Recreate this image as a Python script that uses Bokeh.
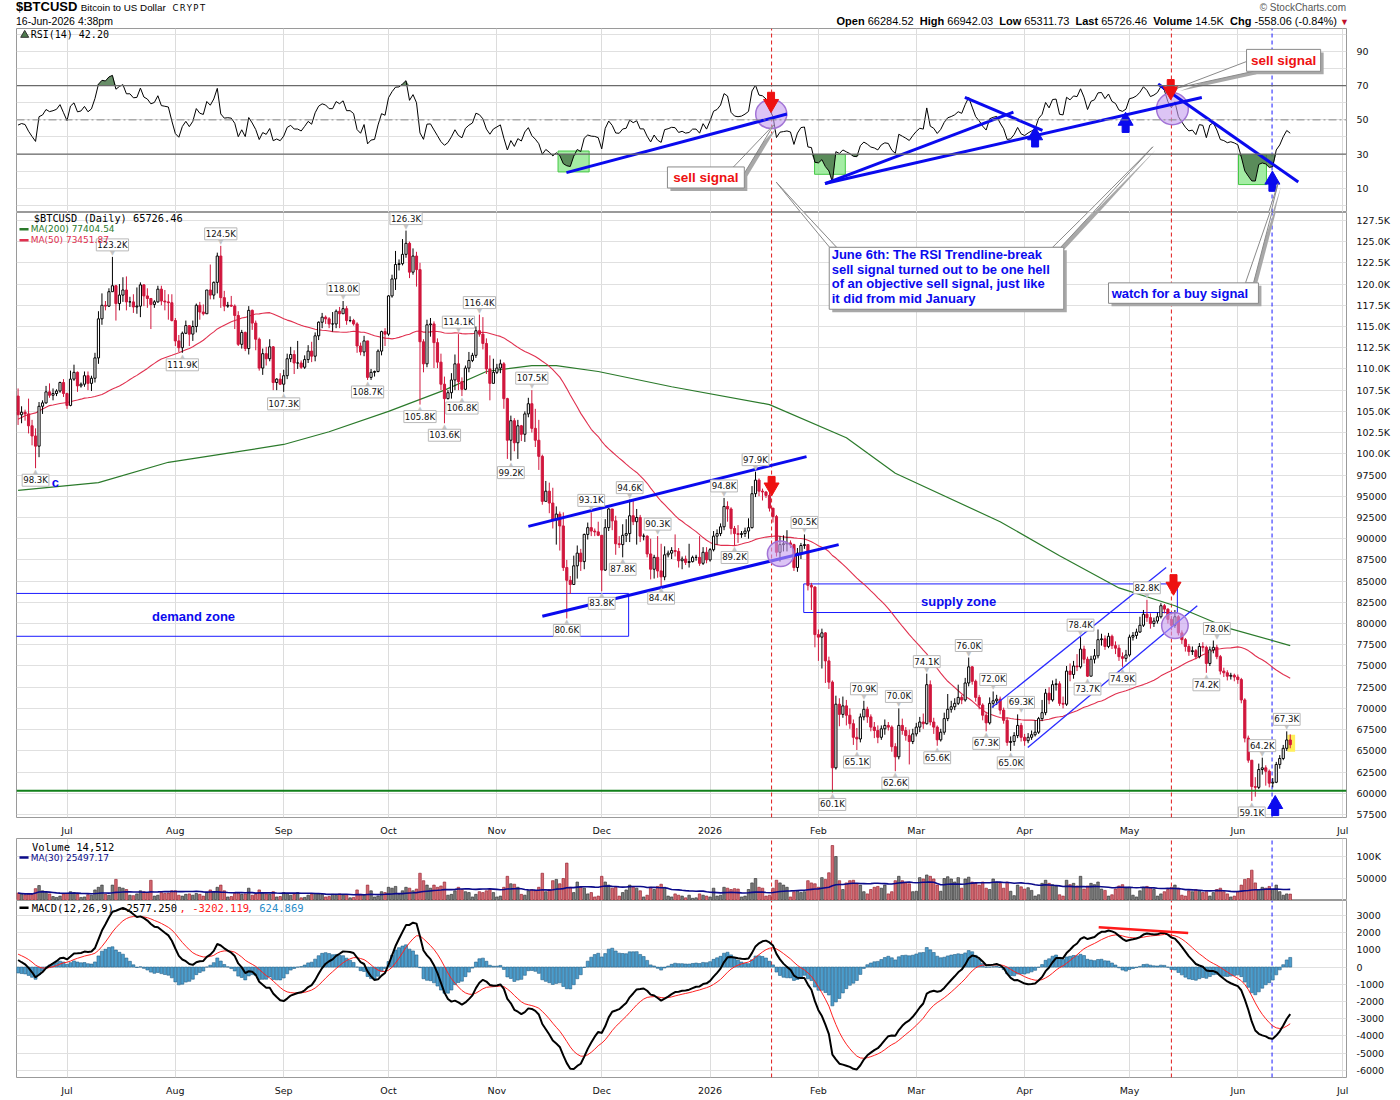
import numpy as np
import pandas as pd
from bokeh.plotting import figure
from bokeh.layouts import column
from bokeh.models import Range1d, FixedTicker, Div, Span, CustomJSTickFormatter, ColumnDataSource
from bokeh.core.properties import value
from bokeh.embed import file_html
from bokeh.resources import INLINE

# ------------------------------------------------------------------ data (prices in K USD)
# daily closes before the first plotted day (warm-up for MA(50), RSI(14), MACD)
warmup_close = [94.3, 94.2, 96.5, 96.9, 95.9, 94.3, 94.7, 96.8, 97.0, 103.2, 102.9, 104.6, 104.1, 102.8,
                104.1, 103.5, 103.7, 103.5, 103.1, 106.5, 105.6, 106.8, 109.7, 111.7, 107.3, 107.8, 109.0,
                109.4, 108.9, 107.8, 105.6, 103.9, 104.6, 105.7, 105.8, 105.4, 104.7, 101.6, 104.4, 105.6,
                105.7, 110.3, 110.3, 108.6, 105.7, 106.0, 105.4, 105.6, 106.8]

close_jun25 = [104.6, 104.9, 104.7, 103.3, 102.1, 100.9, 105.6, 106.0, 107.3, 106.9, 107.1, 107.4, 108.4, 107.1]
high_jun25 = [107.7, 105.6, 105.2, 106.5, 104.0, 103.0, 106.1, 106.3, 108.0, 108.3, 107.7, 107.6, 108.5, 108.8]
low_jun25 = [103.4, 103.6, 103.9, 102.4, 101.0, 98.3, 99.6, 104.7, 105.9, 106.6, 106.3, 106.8, 107.2, 106.7]

close_jul25 = [105.7, 108.8, 109.6, 108.0, 108.2, 109.2, 108.3, 108.9, 111.3, 115.9, 117.5, 117.4, 119.1, 119.8, 117.7,
               118.7, 119.3, 117.9, 117.9, 117.3, 117.4, 119.9, 118.6, 118.3, 117.6, 117.9, 119.4, 118.0, 117.9, 117.8, 115.7]
high_jul25 = [107.2, 109.8, 110.5, 109.7, 108.4, 109.7, 109.7, 109.2, 111.9, 116.8, 118.9, 118.0, 119.5, 123.2, 119.9,
              120.0, 120.8, 120.9, 118.5, 118.8, 119.6, 120.2, 120.0, 119.5, 118.3, 118.1, 119.8, 119.8, 119.3, 118.8, 118.8]
low_jul25 = [105.3, 105.6, 108.6, 107.3, 107.8, 107.9, 107.5, 107.4, 108.4, 110.6, 115.2, 116.9, 117.3, 119.1, 115.7,
             116.9, 117.9, 116.9, 117.3, 116.6, 116.5, 116.1, 117.4, 117.2, 114.7, 117.2, 117.8, 117.5, 116.9, 115.8, 115.6]

close_aug25 = [113.3, 112.5, 114.2, 115.1, 114.1, 115.0, 117.5, 116.7, 116.5, 119.3, 118.7, 120.2, 123.3, 118.4, 117.4,
               117.5, 117.4, 116.3, 112.9, 114.3, 112.4, 116.9, 115.4, 113.5, 110.1, 111.8, 111.2, 112.6, 108.4, 108.8, 108.2]
high_aug25 = [116.0, 114.0, 114.4, 115.7, 115.1, 115.7, 117.7, 117.9, 117.6, 119.3, 122.3, 120.3, 123.7, 124.5, 119.2,
              117.9, 118.6, 117.6, 116.8, 114.6, 114.4, 117.4, 117.0, 115.7, 113.7, 112.4, 112.6, 113.5, 112.7, 108.9, 109.5]
low_aug25 = [112.7, 112.0, 111.9, 114.1, 112.7, 113.3, 114.3, 115.8, 116.3, 116.5, 118.2, 118.2, 118.9, 117.2, 116.8,
             117.2, 117.3, 114.7, 112.7, 112.4, 112.1, 111.7, 114.6, 112.2, 109.8, 109.3, 110.4, 110.9, 107.5, 107.5, 108.1]

close_sep25 = [109.2, 111.2, 111.7, 110.7, 110.7, 110.2, 111.1, 112.1, 111.5, 113.9, 115.5, 116.1, 115.9, 115.3, 115.3,
               116.8, 116.5, 117.1, 115.7, 115.7, 115.3, 112.7, 112.0, 113.3, 109.0, 109.6, 109.7, 112.1, 114.4, 114.1]
high_sep25 = [109.9, 111.8, 112.6, 112.2, 113.3, 111.0, 111.6, 112.8, 113.2, 114.3, 115.6, 116.6, 116.3, 116.1, 116.7,
              117.0, 117.3, 118.0, 117.4, 116.2, 115.9, 115.5, 113.1, 113.9, 113.3, 110.0, 109.8, 112.3, 114.5, 114.8]
low_sep25 = [107.3, 108.8, 110.8, 109.4, 110.0, 110.0, 110.0, 110.7, 110.8, 110.9, 113.4, 114.8, 115.3, 114.8, 114.4,
             114.8, 114.8, 116.6, 115.2, 115.5, 115.1, 111.9, 111.6, 111.5, 108.7, 108.7, 109.1, 109.6, 111.6, 112.7]

close_oct25 = [118.6, 120.6, 122.3, 122.4, 123.5, 124.8, 121.4, 123.3, 121.7, 113.2, 110.6, 115.2, 115.3, 113.1, 110.8,
               108.2, 106.5, 107.2, 108.7, 110.6, 108.5, 107.6, 110.1, 111.0, 111.6, 114.5, 114.1, 113.0, 110.0, 108.3, 109.6]
high_oct25 = [118.7, 121.1, 123.9, 122.9, 125.3, 126.3, 125.0, 124.2, 123.8, 122.5, 113.5, 115.8, 116.0, 115.6, 113.6,
              111.8, 109.1, 107.5, 109.5, 111.7, 114.1, 109.0, 110.4, 112.0, 111.9, 115.0, 116.4, 116.1, 113.6, 111.6, 111.2]
low_oct25 = [113.9, 118.4, 119.3, 121.6, 122.2, 123.1, 120.7, 121.1, 119.7, 105.8, 109.6, 110.2, 113.8, 110.1, 110.1,
             107.5, 103.6, 106.4, 106.5, 107.5, 107.5, 106.8, 107.5, 109.6, 110.8, 111.3, 113.8, 112.3, 109.4, 106.3, 108.7]

close_nov25 = [110.1, 110.6, 106.5, 101.6, 103.9, 101.3, 103.3, 102.3, 104.7, 105.9, 103.0, 101.6, 99.7, 94.4, 95.6,
               94.2, 92.2, 92.9, 91.5, 86.6, 85.1, 84.6, 86.8, 88.3, 87.3, 90.5, 91.3, 90.9, 90.8, 90.4]
high_nov25 = [110.6, 111.1, 110.8, 106.6, 104.5, 104.2, 104.0, 103.4, 105.0, 106.6, 107.5, 105.3, 104.0, 99.9, 96.8,
              96.6, 96.0, 93.8, 93.2, 93.1, 87.5, 85.6, 88.0, 89.2, 88.8, 90.6, 91.9, 93.1, 91.2, 92.0]
low_nov25 = [109.4, 109.5, 105.3, 99.4, 99.2, 100.3, 99.4, 101.5, 101.4, 104.3, 102.5, 100.8, 98.1, 94.0, 94.6,
             93.0, 91.2, 89.3, 88.6, 86.2, 80.6, 83.5, 84.7, 85.3, 86.2, 86.4, 89.9, 90.3, 90.3, 90.3]

close_dec25 = [86.3, 91.3, 93.5, 92.1, 89.4, 89.3, 90.4, 90.6, 92.7, 92.0, 92.5, 90.3, 90.3, 88.2, 86.4, 87.8,
               86.2, 85.5, 88.1, 88.3, 88.6, 88.5, 87.4, 87.6, 87.2, 87.3, 87.8, 87.8, 87.1, 88.4, 87.5]
high_dec25 = [90.4, 92.3, 93.6, 93.4, 92.7, 90.3, 91.7, 92.3, 94.6, 94.5, 93.5, 92.8, 90.6, 90.4, 90.0, 88.1,
              90.3, 89.4, 89.1, 88.6, 89.0, 90.5, 88.9, 87.9, 88.0, 89.4, 88.0, 88.1, 90.3, 89.0, 89.0]
low_dec25 = [83.8, 86.2, 90.9, 91.0, 88.1, 88.9, 87.8, 89.6, 89.6, 91.6, 89.3, 89.6, 89.8, 87.8, 85.2, 85.3,
             85.4, 84.4, 85.1, 87.8, 87.6, 87.9, 86.6, 86.4, 86.9, 86.6, 87.2, 87.4, 86.8, 86.9, 87.1]

close_jan26 = [88.7, 90.3, 90.6, 91.4, 93.8, 93.5, 91.2, 90.6, 90.5, 90.6, 90.9, 91.3, 95.3, 96.9, 95.6, 95.5,
               95.1, 93.6, 92.6, 88.4, 89.3, 89.4, 89.5, 89.3, 86.6, 88.3, 89.2, 89.3, 84.5, 84.3, 78.7]
high_jan26 = [88.9, 90.9, 91.1, 91.8, 94.8, 94.4, 93.7, 91.5, 91.6, 90.9, 91.3, 92.4, 96.2, 97.9, 97.1, 95.9,
              95.6, 95.4, 93.6, 92.8, 90.3, 90.4, 91.0, 89.8, 89.4, 88.9, 89.5, 90.5, 89.3, 84.8, 84.4]
low_jan26 = [87.3, 88.5, 89.3, 90.3, 91.0, 92.0, 90.5, 89.2, 89.5, 90.1, 90.2, 90.0, 91.2, 94.9, 95.0, 94.5,
             94.8, 93.2, 91.9, 87.9, 87.3, 88.5, 88.5, 88.9, 86.2, 86.1, 87.6, 88.8, 83.9, 81.6, 77.2]

close_feb26 = [78.4, 78.9, 75.6, 73.1, 63.0, 70.5, 69.3, 70.3, 69.2, 68.2, 66.6, 66.4, 69.0, 69.9, 69.0, 67.8,
               67.4, 66.6, 67.6, 68.0, 67.8, 65.5, 64.3, 68.0, 67.4, 66.8, 66.1, 67.0]
high_feb26 = [79.3, 79.4, 79.0, 76.1, 73.3, 71.5, 71.2, 71.4, 71.0, 70.0, 68.7, 67.7, 69.4, 70.9, 70.2, 69.3,
              68.4, 68.0, 68.0, 68.7, 68.4, 68.0, 65.9, 70.0, 68.8, 67.8, 67.5, 67.6]
low_feb26 = [75.6, 74.7, 73.0, 72.3, 60.1, 62.8, 67.9, 68.9, 68.0, 67.6, 65.7, 65.1, 66.0, 68.6, 68.3, 67.3,
             66.5, 65.9, 66.3, 66.9, 67.4, 64.9, 62.6, 64.0, 66.9, 66.2, 63.4, 65.8]

close_mar26 = [67.8, 68.4, 68.2, 72.8, 68.4, 67.8, 66.3, 67.2, 68.8, 69.9, 70.2, 70.6, 71.3, 71.0, 73.0, 74.9,
               73.2, 71.3, 70.4, 69.2, 68.3, 70.6, 70.9, 71.1, 69.8, 68.6, 66.0, 66.1, 66.8, 68.0, 66.6]
high_mar26 = [68.3, 69.0, 69.4, 74.1, 73.3, 68.9, 68.0, 67.6, 69.5, 71.7, 70.9, 71.2, 72.8, 71.6, 73.6, 76.0,
              75.0, 73.4, 71.6, 70.6, 69.6, 71.3, 72.0, 71.6, 71.4, 70.1, 68.9, 66.7, 67.2, 69.3, 68.3]
low_mar26 = [66.7, 67.2, 67.6, 68.1, 68.0, 67.0, 65.6, 66.1, 66.9, 68.5, 69.5, 69.8, 70.4, 70.5, 70.8, 72.6,
             72.8, 70.8, 69.9, 68.6, 67.3, 68.1, 70.1, 70.4, 69.3, 68.2, 65.6, 65.0, 65.6, 66.5, 66.1]

close_apr26 = [66.2, 66.6, 66.9, 67.2, 68.8, 69.5, 71.8, 71.0, 72.8, 72.9, 70.6, 70.5, 74.4, 74.0, 75.0, 74.9,
               77.0, 75.8, 73.8, 75.8, 76.2, 78.1, 78.2, 77.3, 78.5, 77.4, 77.1, 76.1, 75.9, 76.3]
high_apr26 = [67.0, 67.1, 67.4, 68.6, 69.0, 71.0, 72.3, 72.5, 73.3, 73.5, 73.2, 71.4, 75.0, 75.3, 75.6, 76.4,
              78.4, 77.4, 76.1, 76.2, 77.0, 79.3, 78.8, 78.6, 78.9, 78.7, 77.9, 77.5, 76.6, 76.9]
low_apr26 = [65.6, 65.9, 66.3, 66.7, 67.0, 68.5, 69.2, 70.5, 70.8, 72.1, 70.3, 70.0, 70.3, 73.2, 73.5, 74.4,
             74.7, 75.3, 73.7, 73.8, 75.3, 75.9, 77.4, 76.9, 77.1, 77.0, 76.4, 75.6, 74.9, 75.5]

close_may26 = [78.4, 78.6, 79.0, 79.8, 81.1, 80.7, 80.0, 80.3, 80.8, 82.1, 81.7, 80.5, 79.8, 80.8, 78.9, 78.1,
               77.3, 76.7, 76.8, 76.1, 77.3, 77.2, 75.3, 76.9, 77.2, 76.1, 74.4, 74.2, 73.8, 73.9, 73.7]
high_may26 = [78.7, 79.0, 79.4, 80.8, 81.6, 82.8, 81.2, 80.7, 81.3, 82.4, 82.3, 81.8, 80.9, 81.6, 81.0, 79.2,
              78.3, 77.6, 77.3, 77.0, 77.7, 77.8, 77.4, 77.3, 78.0, 77.5, 76.3, 74.8, 74.5, 74.2, 74.1]
low_may26 = [76.1, 78.0, 78.2, 78.9, 79.6, 80.2, 79.4, 79.6, 80.0, 80.6, 81.2, 80.0, 79.2, 79.5, 78.6, 77.6,
             76.7, 76.2, 76.3, 75.8, 75.9, 76.7, 74.2, 75.0, 76.5, 75.8, 74.0, 73.7, 73.3, 73.4, 73.2]

close_jun26 = [73.4, 71.0, 66.5, 63.9, 60.8, 60.7, 62.8, 63.0, 62.6, 61.2, 61.3, 63.4, 64.1, 65.3, 66.28452, 65.72646]
high_jun26 = [74.0, 73.6, 71.2, 66.8, 63.9, 61.9, 63.5, 64.2, 63.3, 62.8, 61.8, 63.7, 64.5, 65.7, 67.3, 66.94203]
low_jun26 = [72.9, 70.6, 66.0, 63.6, 59.1, 59.6, 60.5, 62.2, 60.9, 60.7, 60.7, 61.2, 62.9, 63.9, 65.0, 65.31173]

# daily volume (thousands)
vol_jun25 = [17, 15, 13, 16, 14, 27, 34, 22, 18, 15, 9, 7, 10, 15]
vol_jul25 = [16, 20, 18, 14, 7, 8, 13, 12, 24, 30, 35, 14, 12, 35, 48, 30, 28, 25, 12, 11, 15, 22, 20, 18, 46, 10,
             12, 18, 16, 17, 22]
vol_aug25 = [22, 12, 10, 14, 15, 12, 16, 14, 10, 18, 24, 20, 30, 35, 22, 8, 9, 16, 18, 14, 15, 28, 12, 14, 24, 18,
             15, 14, 20, 8, 9]
vol_sep25 = [18, 16, 12, 14, 18, 6, 7, 12, 14, 16, 15, 14, 8, 9, 14, 12, 15, 13, 12, 6, 7, 24, 14, 13, 35, 22, 8,
             10, 20, 18]
vol_oct25 = [30, 28, 32, 14, 22, 30, 28, 22, 26, 62, 45, 35, 28, 35, 30, 33, 42, 12, 14, 22, 30, 25, 20, 18, 8, 14,
             20, 18, 22, 25, 18]
vol_nov25 = [8, 10, 30, 55, 38, 37, 30, 14, 12, 22, 25, 22, 30, 62, 20, 25, 45, 48, 38, 50, 85, 30, 18, 42, 30, 28,
             15, 18, 8, 10]
vol_dec25 = [55, 42, 35, 28, 30, 10, 18, 24, 35, 30, 28, 22, 8, 12, 30, 25, 32, 37, 30, 10, 8, 15, 12, 10, 6, 12, 5,
             6, 15, 12, 10]
vol_jan26 = [8, 28, 10, 12, 30, 28, 25, 27, 26, 8, 10, 25, 40, 50, 30, 28, 10, 12, 28, 46, 40, 35, 30, 8, 20, 22,
             18, 20, 45, 40, 38]
vol_feb26 = [30, 52, 48, 63, 125, 100, 45, 25, 40, 45, 46, 38, 35, 20, 15, 25, 30, 32, 28, 35, 15, 20, 45, 55, 45,
             40, 38, 20]
vol_mar26 = [21, 52, 49, 58, 55, 49, 35, 21, 50, 54, 49, 42, 52, 28, 49, 53, 42, 39, 35, 42, 28, 25, 49, 42, 39, 28,
             42, 21, 11, 35, 31]
vol_apr26 = [26, 29, 23, 10, 13, 39, 46, 39, 36, 33, 13, 10, 46, 36, 39, 33, 55, 26, 33, 39, 36, 42, 26, 23, 10, 13,
             26, 33, 36, 29]
vol_may26 = [30, 12, 8, 22, 30, 32, 28, 25, 10, 15, 20, 25, 30, 35, 28, 12, 10, 22, 20, 25, 22, 18, 20, 10, 18, 25,
             28, 20, 15, 8, 10]
vol_jun26 = [20, 35, 48, 50, 69, 40, 25, 30, 28, 32, 25, 35, 20, 12, 15, 14.512]

# MA(200) (day index, K USD)
ma200_day = [0, 23, 43, 62, 76, 89, 106, 122, 134, 147, 154, 166, 187, 215, 237, 251, 281, 298, 315, 331, 346, 364]
ma200_val = [95.7, 96.6, 99.0, 100.2, 101.1, 102.6, 105.0, 107.5, 109.7, 110.4, 110.4, 109.7, 107.9, 105.8, 101.9,
             97.7, 92.0, 88.0, 84.2, 82.1, 79.5, 77.4]

# swing high / low price tags (day index, value K, 1 = above the bar)
tag_day = [5, 27, 47, 58, 76, 93, 100, 111, 115, 122, 126, 127, 132, 141, 147, 157, 164, 167, 175, 173, 183, 184,
           202, 205, 211, 225, 233, 242, 240, 252, 251, 260, 263, 272, 277, 279, 287, 284, 304, 306, 316, 323, 343,
           340, 353, 356, 363]
tag_val = [98.3, 123.2, 111.9, 124.5, 107.3, 118.0, 108.7, 126.3, 105.8, 103.6, 114.1, 106.8, 116.4, 99.2, 107.5,
           80.6, 93.1, 83.8, 94.6, 87.8, 90.3, 84.4, 94.8, 89.2, 97.9, 90.5, 60.1, 70.9, 65.1, 70.0, 62.6, 74.1, 65.6,
           76.0, 67.3, 72.0, 69.3, 65.0, 78.4, 73.7, 74.9, 82.8, 78.0, 74.2, 59.1, 64.2, 67.3]
tag_above = [0, 1, 0, 1, 0, 1, 0, 1, 0, 0, 1, 0, 1, 0, 1, 0, 1, 0, 1, 0, 1, 0, 1, 0, 1, 1, 0, 1, 0, 1, 0, 1, 0, 1, 0,
             1, 1, 0, 1, 0, 0, 1, 1, 0, 0, 1, 1]

# ------------------------------------------------------------------ assemble series
closes = (close_jun25 + close_jul25 + close_aug25 + close_sep25 + close_oct25 + close_nov25 + close_dec25 +
          close_jan26 + close_feb26 + close_mar26 + close_apr26 + close_may26 + close_jun26)
highs = (high_jun25 + high_jul25 + high_aug25 + high_sep25 + high_oct25 + high_nov25 + high_dec25 +
         high_jan26 + high_feb26 + high_mar26 + high_apr26 + high_may26 + high_jun26)
lows = (low_jun25 + low_jul25 + low_aug25 + low_sep25 + low_oct25 + low_nov25 + low_dec25 +
        low_jan26 + low_feb26 + low_mar26 + low_apr26 + low_may26 + low_jun26)
volumes = (vol_jun25 + vol_jul25 + vol_aug25 + vol_sep25 + vol_oct25 + vol_nov25 + vol_dec25 +
           vol_jan26 + vol_feb26 + vol_mar26 + vol_apr26 + vol_may26 + vol_jun26)
n = len(closes)
assert len(highs) == n and len(lows) == n and len(volumes) == n, (n, len(highs), len(lows), len(volumes))

c = np.array(closes)
h = np.array(highs)
l = np.array(lows)
o = np.array([warmup_close[-1]] + closes[:-1])   # 24h market: each day opens at the prior close
vol = np.array(volumes) * 1000.0
days = np.arange(n)
up = c >= o

full = pd.Series(np.array(warmup_close + closes) * 1000.0)
k0 = len(warmup_close)
ma50 = (full.rolling(50).mean() / 1000.0).values[k0:]
d = full.diff().fillna(0.0)
gain = d.clip(lower=0).ewm(alpha=1 / 14, adjust=False).mean()
loss = (-d.clip(upper=0)).ewm(alpha=1 / 14, adjust=False).mean()
rsi = (100 - 100 / (1 + gain / loss)).values[k0:]
macd_s = full.ewm(span=12, adjust=False).mean() - full.ewm(span=26, adjust=False).mean()
sig_s = macd_s.ewm(span=9, adjust=False).mean()
macd = macd_s.values[k0:]
sig = sig_s.values[k0:]
hist = macd - sig
vol_ma = pd.Series(vol).rolling(30, min_periods=1).mean().values

axis_dates = pd.date_range("2025-06-17", "2026-07-01", freq="D")
month_ticks = [i for i, dt in enumerate(axis_dates) if dt.day == 1]
month_labels = ["2026" if dt.month == 1 else dt.strftime("%b") for dt in axis_dates if dt.day == 1]

# ------------------------------------------------------------------ styling helpers
FONT = "DejaVu Sans"
MONO = "DejaVu Sans Mono"
BOLD = "Liberation Sans"
RED = "#d0173d"
BLUE = "#0a0aee"
LEFT_B, RIGHT_B, FRAME_W = 16, 46, 1330
W = LEFT_B + FRAME_W + RIGHT_B
X_RANGE = Range1d(-0.45, 380.1)
SIGNAL_LINES = ((215.6, "#e01b1b"), (330.0, "#e01b1b"), (358.8, "#1b1bff"))


def panel(frame_h, y0, y1, xlabels):
    bottom = 14 if xlabels else 0
    f = figure(width=W, height=frame_h + bottom, x_range=X_RANGE, y_range=Range1d(y0, y1),
               output_backend="svg", toolbar_location=None, y_axis_location="right",
               min_border_left=LEFT_B, min_border_right=RIGHT_B, min_border_top=0, min_border_bottom=bottom)
    f.outline_line_color = "#9a9a9a"
    f.background_fill_color = "white"
    f.border_fill_color = "white"
    f.xgrid.ticker = FixedTicker(ticks=month_ticks)
    f.xgrid.grid_line_color = "#dcdcdc"
    f.ygrid.grid_line_color = "#e0e0e0"
    ya = f.yaxis[0]
    ya.axis_line_color = None
    ya.major_tick_line_color = None
    ya.minor_tick_line_color = None
    ya.major_label_text_font = FONT
    ya.major_label_text_font_size = "9.5px"
    ya.major_label_text_color = "#111111"
    ya.major_label_standoff = 4
    xa = f.xaxis[0]
    if xlabels:
        xa.ticker = FixedTicker(ticks=month_ticks)
        xa.major_label_overrides = {t: s for t, s in zip(month_ticks, month_labels)}
        xa.axis_line_color = None
        xa.major_tick_line_color = None
        xa.minor_tick_line_color = None
        xa.major_label_text_font = FONT
        xa.major_label_text_font_size = "9.5px"
        xa.major_label_text_color = "#111111"
        xa.major_label_standoff = 1
    else:
        xa.visible = False
    for loc, col in SIGNAL_LINES:
        f.segment(x0=[loc], y0=[y0], x1=[loc], y1=[y1], line_color=col, line_dash="4 3", line_width=1)
    return f


def txt(f, x, y, s, color="#000000", size="10px", font=FONT, style="normal", align="left", baseline="middle"):
    f.text(x=[x], y=[y], text=[s], text_color=color, text_font=value(font), text_font_size=value(size),
           text_font_style=style, text_align=align, text_baseline=baseline)


def arrow(f, x, y_shaft, y_head, color, down):
    f.rect(x=[x], y=[y_shaft], width=7, height=8, width_units="screen", height_units="screen",
           fill_color=color, line_color=color)
    f.scatter(x=[x], y=[y_head], marker="inverted_triangle" if down else "triangle", size=15,
              fill_color=color, line_color=color)


def callout(f, box, wedges, dx, dy):
    # box = (left, right, top, bottom); wedges = list of (xs, ys); dx, dy = shadow offsets in data units
    for xs, ys in wedges:
        f.patch([x + dx for x in xs], [y + dy for y in ys], fill_color="#a8a8a8", line_color=None)
    if box:
        f.quad(left=[box[0] + dx], right=[box[1] + dx], top=[box[2] + dy], bottom=[box[3] + dy],
               fill_color="#a8a8a8", line_color=None)
    for xs, ys in wedges:
        f.patch(xs, ys, fill_color="white", line_color="#8a8a8a", line_width=1)
    if box:
        f.quad(left=[box[0]], right=[box[1]], top=[box[2]], bottom=[box[3]],
               fill_color="white", line_color="#8a8a8a", line_width=1)


# ------------------------------------------------------------------ header
header_html = (
    '<div style="position:relative;width:%dpx;height:28px;font-family:\'Liberation Sans\',Arial,sans-serif;color:#000;">'
    '<div style="position:absolute;left:16px;top:0px;line-height:14px;white-space:nowrap;">'
    '<span style="font-size:13px;font-weight:bold;">$BTCUSD</span>&nbsp;'
    '<span style="font-size:9.8px;">Bitcoin to US Dollar</span>&nbsp;&nbsp;'
    '<span style="font-size:8.5px;letter-spacing:1.5px;font-family:\'DejaVu Sans\';">CRYPT</span></div>'
    '<div style="position:absolute;left:16px;top:15px;line-height:12px;font-size:10.5px;">16-Jun-2026 4:38pm</div>'
    '<div style="position:absolute;right:46px;top:2px;line-height:12px;font-size:10px;color:#555;">&copy; StockCharts.com</div>'
    '<div style="position:absolute;right:43px;top:15px;line-height:12px;font-size:11px;white-space:nowrap;">'
    '<b>Open</b> 66284.52&nbsp; <b>High</b> 66942.03&nbsp; <b>Low</b> 65311.73&nbsp; <b>Last</b> 65726.46&nbsp; '
    '<b>Volume</b> 14.5K&nbsp; <b>Chg</b> -558.06 (-0.84%%) <span style="color:#c0102a;font-size:9px;">&#9660;</span></div>'
    '</div>' % W)
header = Div(text=header_html, width=W, height=28, margin=(0, 0, 0, 0))

# ------------------------------------------------------------------ RSI panel
rp = panel(184, -4.12, 103.4, False)
rp.yaxis[0].ticker = FixedTicker(ticks=[10, 30, 50, 70, 90])
rp.ygrid[0].ticker = FixedTicker(ticks=list(range(0, 101, 10)))
rp.quad(left=[154.5, 227.9, 349.2], right=[163.4, 236.7, 357.2], top=[31.8, 29.8, 29.8], bottom=[19.6, 18.2, 12.2],
        fill_color="#8de88d", fill_alpha=0.8, line_color="#45c845")
rp.add_layout(Span(location=70, dimension="width", line_color="#6a6a6a", line_width=1.2))
rp.add_layout(Span(location=30, dimension="width", line_color="#6a6a6a", line_width=1.2))
rp.add_layout(Span(location=50, dimension="width", line_color="#8a8a8a", line_width=1, line_dash="8 3 2 3"))
rp.varea(x=days, y1=np.minimum(rsi, 30), y2=30, fill_color="#4d7a4d", fill_alpha=0.85)
rp.varea(x=days, y1=70, y2=np.maximum(rsi, 70), fill_color="#4d7a4d", fill_alpha=0.85)
rp.line(days, rsi, line_color="black", line_width=1)
rp.ellipse(x=[215.5, 330.3], y=[53.4, 56.5], width=[8.9, 9.1], height=[17.0, 18.6],
           fill_color="#c49cee", fill_alpha=0.6, line_color="#a274d6", line_width=1.5)
rsi_trend = [((156.9, 19.2), (220.0, 53.4)), ((230.9, 12.8), (338.7, 63.1)), ((230.9, 12.8), (284.8, 54.5)),
             ((270.9, 63.1), (293.1, 43.9)), ((326.2, 71.0), (366.3, 13.7))]
rp.multi_line(xs=[[a[0], b[0]] for a, b in rsi_trend], ys=[[a[1], b[1]] for a, b in rsi_trend],
              line_color=BLUE, line_width=3)
arrow(rp, 215.45, 63.8, 59.4, "#ee1111", True)
arrow(rp, 329.8, 71.2, 66.8, "#ee1111", True)
arrow(rp, 291.0, 36.5, 40.9, BLUE, False)
arrow(rp, 316.9, 45.0, 49.4, BLUE, False)
arrow(rp, 358.9, 10.6, 15.0, BLUE, False)
# callouts living in the RSI panel
callout(rp, (185.8, 207.8, 22.5, 10.2), [([204.7, 216.2, 207.8], [22.5, 47.1, 18.8])], 0.86, -1.76)
txt(rp, 196.8, 16.4, "sell signal", color="#ee1111", size="13.5px", font=BOLD, style="bold", align="center")
callout(rp, (351.5, 372.7, 91.2, 78.4), [([351.5, 331.6, 353.5], [84.1, 68.6, 78.4])], 0.86, -1.76)
txt(rp, 362.1, 84.8, "sell signal", color="#ee1111", size="13.5px", font=BOLD, style="bold", align="center")
# upper ends of the pointers of the boxes that sit in the price panel
callout(rp, None, [([232.2, 216.9, 234.2], [-24.9, 13.7, -24.9]), ([296.0, 324.7, 298.3], [-24.9, 34.3, -24.9]),
                   ([351.2, 360.5, 353.5], [-45.5, 12.8, -45.5])], 0.86, -1.76)
rp.scatter(x=[1.9], y=[99.6], marker="triangle", size=8, fill_color="#4d7a4d", line_color="#333333")
txt(rp, 3.6, 100.0, "RSI(14) 42.20", font=MONO, size="10px")

# ------------------------------------------------------------------ price panel
pp = panel(612, 57.15, 128.43, True)
pp.yaxis[0].ticker = FixedTicker(ticks=list(np.arange(57.5, 128.0, 2.5)))
pp.yaxis[0].formatter = CustomJSTickFormatter(
    code="return tick >= 99.99 ? tick.toFixed(1) + 'K' : String(Math.round(tick * 1000));")
pp.quad(left=[-6.0], right=[174.7], top=[83.55], bottom=[78.5], fill_color=None, line_color="#1a1aff", line_width=1)
pp.quad(left=[224.8], right=[331.7], top=[84.67], bottom=[81.3], fill_color=None, line_color="#1a1aff", line_width=1)
txt(pp, 50.2, 80.87, "demand zone", color=BLUE, size="13px", font=BOLD, style="bold", align="center")
txt(pp, 269.1, 82.6, "supply zone", color=BLUE, size="13px", font=BOLD, style="bold", align="center")
pp.quad(left=[363.2], right=[365.4], top=[66.9], bottom=[64.9], fill_color="#ffef5a", line_color=None)
pp.line(ma200_day, ma200_val, line_color="#2b7a2b", line_width=1.2)
pp.line(days, ma50, line_color="#e0304f", line_width=1.1)
for mask, body, edge in ((up, "white", "black"), (~up, RED, RED)):
    src = ColumnDataSource(dict(x=days[mask], hi=h[mask], lo=l[mask],
                                top=np.maximum(o, c)[mask], bot=np.minimum(o, c)[mask]))
    pp.segment(x0="x", y0="lo", x1="x", y1="hi", source=src, line_color=edge, line_width=1)
    pp.vbar(x="x", top="top", bottom="bot", width=0.62, source=src, fill_color=body, line_color=edge, line_width=1)
pp.add_layout(Span(location=60.3, dimension="width", line_color="#11801a", line_width=2.2))
thick = [((146.0, 91.45), (225.6, 99.67)), ((150.0, 80.87), (234.8, 89.3))]
thin = [((278.6, 70.1), (328.5, 86.6)), ((288.9, 65.4), (337.4, 82.1))]
pp.multi_line(xs=[[a[0], b[0]] for a, b in thick], ys=[[a[1], b[1]] for a, b in thick], line_color=BLUE, line_width=3)
pp.multi_line(xs=[[a[0], b[0]] for a, b in thin], ys=[[a[1], b[1]] for a, b in thin], line_color="#2a2aff", line_width=1.3)
pp.ellipse(x=[218.2, 331.0], y=[88.22, 79.76], width=[7.6, 7.6], height=[3.0, 3.03],
           fill_color="#c49cee", fill_alpha=0.6, line_color="#a274d6", line_width=1.5)
arrow(pp, 215.6, 96.86, 96.05, "#ee1111", True)
arrow(pp, 330.6, 85.29, 84.36, "#ee1111", True)
arrow(pp, 359.7, 57.85, 58.72, BLUE, False)
txt(pp, 10.7, 96.6, "c", color=BLUE, size="13px", font=BOLD, style="bold", align="center")
tags = ColumnDataSource(dict(x=tag_day, y=tag_val, t=["%.1fK" % v for v in tag_val],
                             off=[-12 if a else 12 for a in tag_above],
                             poff=[-4 if a else 4 for a in tag_above],
                             p=["\u25BC" if a else "\u25B2" for a in tag_above]))
pp.text(x="x", y="y", text="p", y_offset="poff", source=tags, text_align="center", text_baseline="middle",
        text_font=value(FONT), text_font_size=value("7px"), text_color="#c4c4c4")
pp.text(x="x", y="y", text="t", y_offset="off", source=tags, text_align="center", text_baseline="middle",
        text_font=value(FONT), text_font_size=value("8.6px"), text_color="#111111",
        background_fill_color="white", border_line_color="#b8b8b8", padding=1)
# callout boxes
callout(pp, (232.1, 299.2, 124.33, 117.03),
        [([232.2, 216.9, 234.2], [124.33, 131.95, 124.33]), ([296.0, 324.7, 298.3], [124.33, 136.03, 124.33])],
        0.86, -0.35)
for yy, s in zip([123.51, 121.77, 120.02, 118.28],
                 ["June 6th: The RSI Trendline-break", "sell signal turned out to be one hell",
                  "of an objective sell signal, just like", "it did from mid January"]):
    txt(pp, 232.8, yy, s, color=BLUE, size="13px", font=BOLD, style="bold")
callout(pp, (312.0, 354.9, 120.14, 117.73), [([351.2, 360.5, 353.5], [120.14, 131.19, 120.14])], 0.86, -0.35)
txt(pp, 312.9, 118.9, "watch for a buy signal", color=BLUE, size="13px", font=BOLD, style="bold")
# legend
txt(pp, 4.5, 127.73, "$BTCUSD (Daily) 65726.46", font=MONO, size="10.3px")
pp.segment(x0=[0.4, 0.4], y0=[126.45, 125.17], x1=[3.0, 3.0], y1=[126.45, 125.17],
           line_color=["#2b7a2b", "#e0304f"], line_width=2.5)
txt(pp, 3.6, 126.45, "MA(200) 77404.54", color="#2b7a2b", size="9px")
txt(pp, 3.6, 125.17, "MA(50) 73451.87", color="#e0304f", size="9px")

# ------------------------------------------------------------------ volume panel
vp = panel(62, 0, 141000, False)
vp.yaxis[0].ticker = FixedTicker(ticks=[50000, 100000])
vp.yaxis[0].formatter = CustomJSTickFormatter(code="return tick >= 100000 ? (tick / 1000) + 'K' : String(tick);")
vp.vbar(x=days[up], top=vol[up], bottom=0, width=0.72, fill_color="#7d7d7d", line_color="#3a3a3a", line_width=0.7)
vp.vbar(x=days[~up], top=vol[~up], bottom=0, width=0.72, fill_color="#d46a72", line_color="#9c2a36", line_width=0.7)
vp.line(days, vol_ma, line_color="#0b0b8a", line_width=1.6)
txt(vp, 4.0, 122700, "Volume 14,512", font=MONO, size="10.5px")
vp.segment(x0=[0.4], y0=[97700], x1=[3.0], y1=[97700], line_color="#0b0b8a", line_width=2.5)
txt(vp, 3.6, 97700, "MA(30) 25497.17", color="#0b0b8a", size="9px")

# ------------------------------------------------------------------ MACD panel
mp = panel(184, -6425, 3875, True)
mp.yaxis[0].ticker = FixedTicker(ticks=list(range(-6000, 3001, 1000)))
mp.yaxis[0].formatter = CustomJSTickFormatter(code="return tick.toFixed(0);")
mp.vbar(x=days, top=hist, bottom=0, width=0.85, fill_color="#4c9dcc", line_color="#235f88", line_width=0.6)
mp.line(days, sig, line_color="#ff2020", line_width=1)
mp.line(days, macd, line_color="black", line_width=2)
mp.line([309.2, 334.8], [2322, 1988], line_color="#ff1a1a", line_width=2.5)
mp.segment(x0=[0.4], y0=[3452], x1=[3.0], y1=[3452], line_color="black", line_width=2.5)
txt(mp, 3.9, 3452, "MACD(12,26,9) -2577.250", font=MONO, size="10.5px")
txt(mp, 46.2, 3452, ", -3202.119", color="#ff2020", font=MONO, size="10.5px")
txt(mp, 65.4, 3452, ", 624.869", color="#2a8cc8", font=MONO, size="10.5px")

layout = column(header, rp, pp, vp, mp, spacing=0)
open("out.html", "w").write(file_html(layout, INLINE, title="$BTCUSD"))
